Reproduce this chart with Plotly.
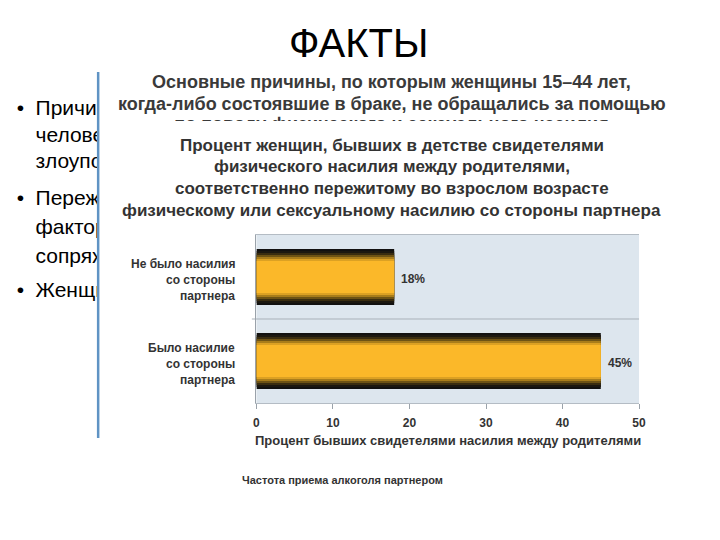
import plotly.graph_objects as go

W, H = 720, 540

# ---------------- data ----------------
slide_title = "ФАКТЫ"
bullet_lines = ["Причины", "человека", "злоупотребление", "Пережитое", "факторы", "сопряжено", "Женщины"]
bullet_flags = [True, False, False, True, False, False, True]
bullet_y = [110, 137, 163, 200, 229, 258, 292]

top_text = ["Основные причины, по которым женщины 15–44 лет,",
            "когда-либо состоявшие в браке, не обращались за помощью"]
top_text_cut = "по поводу физического и сексуального насилия"

chart_title = ["Процент женщин, бывших в детстве свидетелями",
               "физического насилия между родителями,",
               "соответственно пережитому во взрослом возрасте",
               "физическому или сексуальному насилию со стороны партнера"]

categories = ["Не было насилия<br>со стороны<br>партнера",
              "Было насилие<br>со стороны<br>партнера"]
values = [18, 45]
value_labels = ["18%", "45%"]
x_ticks = [0, 10, 20, 30, 40, 50]
x_title = "Процент бывших свидетелями насилия между родителями"
footer = "Частота приема алкоголя партнером"

# ---------------- helpers ----------------
def px(x):
    return x / W

def py(y):
    return 1 - y / H

TXT = "#333333"
FONT = "Liberation Sans, Arial, sans-serif"

fig = go.Figure()

# gradient bar layers (outer dark -> inner yellow)
layers = [(0.667, "#121110"), (0.62, "#1c1810"), (0.571, "#3a2d10"),
          (0.524, "#6e5314"), (0.476, "#a97d1a"), (0.429, "#dca123"),
          (0.381, "#fbb829")]
for w, c in layers:
    fig.add_trace(go.Bar(x=values, y=categories, orientation="h", width=w,
                         marker=dict(color=c, line=dict(width=0)),
                         hoverinfo="skip", showlegend=False,
                         xaxis="x", yaxis="y"))

# bullet text, clipped at the picture edge
fig.add_trace(go.Scatter(x=[33] * len(bullet_lines), y=bullet_y, mode="text",
                         text=bullet_lines, textposition="middle right",
                         textfont=dict(family=FONT, size=21, color="#000000"),
                         cliponaxis=True, hoverinfo="skip", showlegend=False,
                         xaxis="x2", yaxis="y2"))
bx = [14 for f in bullet_flags if f]
by = [y for y, f in zip(bullet_y, bullet_flags) if f]
fig.add_trace(go.Scatter(x=bx, y=by, mode="text", text=["•"] * len(bx),
                         textposition="middle right",
                         textfont=dict(family=FONT, size=21, color="#000000"),
                         cliponaxis=True, hoverinfo="skip", showlegend=False,
                         xaxis="x2", yaxis="y2"))

# third line of the top text, cut at the bottom
fig.add_trace(go.Scatter(x=[394], y=[125], mode="text", text=[top_text_cut],
                         textposition="middle center",
                         textfont=dict(family=FONT, size=18, color="#3a3a3a", weight="bold"),
                         cliponaxis=True, hoverinfo="skip", showlegend=False,
                         xaxis="x3", yaxis="y3"))

ann = []
ann.append(dict(x=px(360), y=py(43), xref="paper", yref="paper", text=slide_title,
                showarrow=False, font=dict(family=FONT, size=40, color="#000000"),
                xanchor="center", yanchor="middle"))
for i, t in enumerate(top_text):
    ann.append(dict(x=px(394), y=py(82 + 22 * i), xref="paper", yref="paper", text=t,
                    showarrow=False, font=dict(family=FONT, size=18, color="#3a3a3a", weight="bold"),
                    xanchor="center", yanchor="middle"))
for i, t in enumerate(chart_title):
    ann.append(dict(x=px(394), y=py(145 + 21.7 * i), xref="paper", yref="paper", text=t,
                    showarrow=False, font=dict(family=FONT, size=17, color=TXT, weight="bold"),
                    xanchor="center", yanchor="middle"))
# category labels
for cat in categories:
    lines = cat.split("<br>")
    for j, ln in enumerate(lines):
        ann.append(dict(x=0, y=cat, xref="x", yref="y", text=ln, showarrow=False,
                        xanchor="right", yanchor="middle", xshift=-19,
                        yshift=-(j - 1) * 16 - 3,
                        font=dict(family=FONT, size=12, color=TXT, weight="bold")))
# value labels
for cat, v, lab in zip(categories, values, value_labels):
    ann.append(dict(x=v, y=cat, xref="x", yref="y", text=lab, showarrow=False,
                    xanchor="left", yanchor="middle", xshift=5, yshift=-2,
                    font=dict(family=FONT, size=12, color=TXT, weight="bold")))
ann.append(dict(x=0.5, y=py(440), xref="x domain", yref="paper", text=x_title,
                showarrow=False, xanchor="center", yanchor="middle",
                font=dict(family=FONT, size=13, color=TXT, weight="bold")))
ann.append(dict(x=px(344), y=py(480), xref="paper", yref="paper", text=footer,
                showarrow=False, xanchor="center", yanchor="middle",
                font=dict(family=FONT, size=11, color=TXT, weight="bold")))

shapes = [
    dict(type="rect", xref="x domain", yref="y domain", x0=0, x1=1, y0=0, y1=1,
         fillcolor="#dde6ee", line=dict(width=0), layer="below"),
    dict(type="line", xref="x domain", yref="y", x0=-0.012, x1=1, y0=0.5, y1=0.5,
         line=dict(color="#a9b1b9", width=1), layer="below"),
    dict(type="line", xref="paper", yref="paper", x0=px(96.5), x1=px(96.5),
         y0=py(72), y1=py(438), line=dict(color="#5f93c4", width=2.5)),
]

hidden = dict(visible=False, showgrid=False, zeroline=False, fixedrange=True)

fig.update_layout(
    width=W, height=H, margin=dict(l=0, r=0, t=0, b=0),
    paper_bgcolor="white", plot_bgcolor="rgba(0,0,0,0)",
    barmode="overlay", showlegend=False,
    annotations=ann, shapes=shapes,
    xaxis=dict(domain=[px(257), px(645)], range=[0, 50], tickvals=x_ticks,
               ticks="outside", ticklen=5, tickcolor="#9aa2aa",
               showline=True, mirror=True, linecolor="#b4bcc4", linewidth=1,
               showgrid=False, zeroline=False, ticklabelstandoff=4,
               tickfont=dict(family=FONT, size=12, color=TXT, weight="bold")),
    yaxis=dict(domain=[py(403), py(235)], range=[-0.5, 1.5],
               categoryorder="array", categoryarray=list(reversed(categories)),
               showticklabels=False, ticks="", showline=True, linecolor="#9aa2aa",
               showgrid=False, zeroline=False),
    xaxis2=dict(domain=[0, px(96)], range=[0, 96], anchor="y2", **hidden),
    yaxis2=dict(domain=[0, 1], range=[540, 0], anchor="x2", **hidden),
    xaxis3=dict(domain=[0, 1], range=[0, 720], anchor="y3", **hidden),
    yaxis3=dict(domain=[py(121), py(112)], range=[121, 112], anchor="x3", **hidden),
)

fig.write_html("out.html")
